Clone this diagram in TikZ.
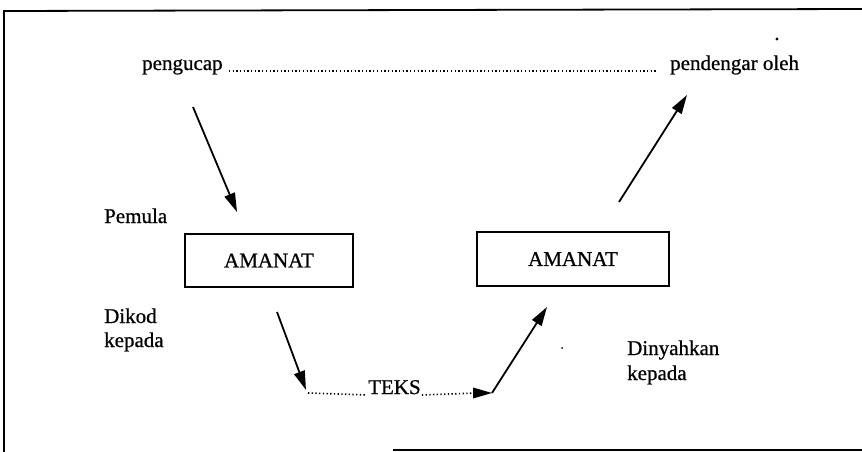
\documentclass[tikz,border=0pt]{standalone}
\usepackage{fontspec}
\setmainfont{Liberation Serif}[FakeBold=0.7]
\usetikzlibrary{arrows.meta}
\begin{document}
\begin{tikzpicture}[x=1pt,y=-1pt,
  txt/.style={inner sep=0pt,font=\fontsize{21}{24}\selectfont,anchor=base west},
  box/.style={draw,line width=1.8pt,inner sep=0pt,font=\fontsize{21}{24}\selectfont},
  arr/.style={line width=1.8pt,-{Triangle[length=19pt,width=11pt]}},
  dotline/.style={line width=1.6pt,dash pattern=on 1.3pt off 2.4pt},
  frame/.style={line width=1.8pt}]
\useasboundingbox (0,0) rectangle (862,452);
% frame (as visible)
\coordinate (ftl) at (4,11);
\coordinate (ftr) at (862,9);
\coordinate (fbl) at (4,452);
\coordinate (fbm) at (393,450);
\coordinate (fbr) at (862,450);
\draw[frame] (ftr) -- (ftl) -- (fbl);
\draw[frame] (fbm) -- (fbr);
% top labels
\node[txt] (peng) at (142,70) {pengucap};
\node[txt] (pend) at (670,70) {pendengar oleh};
\draw[dotline] ([xshift=6pt,yshift=-1pt]peng.base east) -- ([xshift=-14pt,yshift=-1pt]pend.base west);
% boxes
\node[box,minimum width=168pt,minimum height=53pt] (am1) at (269,260.5) {AMANAT};
\node[box,minimum width=192pt,minimum height=54pt] (am2) at (573,259) {AMANAT};
% side labels
\node[txt] (pem) at (104,223) {Pemula};
\node[txt] (dik) at (104,323) {Dikod};
\node[txt] (kep1) at (104,347) {kepada};
\node[txt] (din) at (627,355) {Dinyahkan};
\node[txt] (kep2) at (627,380) {kepada};
% arrows
\coordinate (a1s) at (193,107);
\coordinate (a1e) at (237,212);
\draw[arr] (a1s) -- (a1e);
\coordinate (a2s) at (619,202);
\coordinate (a2e) at (687,95);
\draw[arr] (a2s) -- (a2e);
\coordinate (a3s) at (277,312);
\coordinate (a3e) at (306,390);
\draw[arr] (a3s) -- (a3e);
% TEKS
\node[txt] (teks) at (368,394) {TEKS};
\coordinate (tl) at (308,393);
\coordinate (tr) at (492,393);
\draw[dotline] (tl) -- ([xshift=-1pt,yshift=-1pt]teks.base west);
\draw[dotline] ([xshift=1pt,yshift=-1pt]teks.base east) -- ([xshift=-16pt]tr);
\fill ([xshift=-19pt,yshift=-5.5pt]tr) -- (tr) -- ([xshift=-19pt,yshift=5.5pt]tr) -- cycle;
\coordinate (a4e) at (547,307);
\draw[arr] (tr) -- (a4e);
% specks
\fill (777,39) circle (1.6pt);
\fill (562,348) circle (1pt);
\end{tikzpicture}
\end{document}
